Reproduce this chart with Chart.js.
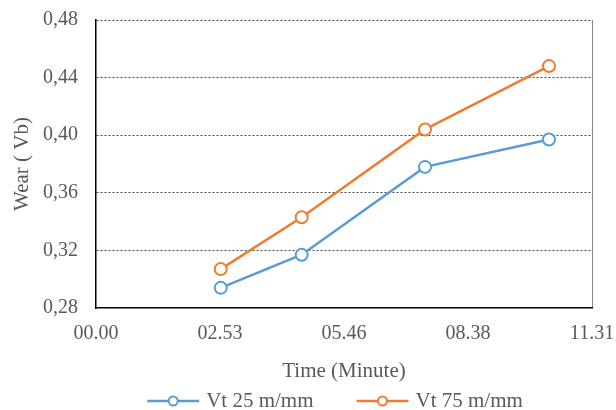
<!DOCTYPE html>
<html>
<head>
    <meta charset="utf-8">
    <title>Wear vs Time</title>
    <script src="https://cdn.jsdelivr.net/npm/chart.js@4.4.1/dist/chart.umd.min.js"></script>
    <style>
        html, body { margin: 0; padding: 0; background: #fff; }
        #wrap { width: 616px; height: 410px; }
    </style>
</head>
<body>
    <div id="wrap"><canvas id="wearChart" width="616" height="410"></canvas></div>
    <script>
        // time in seconds (axis shows mm.ss style labels every 173 s)
        const timeSec = [174, 287, 459, 632]
        const vt25 = [0.294, 0.317, 0.378, 0.397]
        const vt75 = [0.307, 0.343, 0.404, 0.448]
        const seriesNames = ['Vt 25 m/mm', 'Vt 75 m/mm']
        const seriesColors = ['#5B9BD5', '#ED7D31']
        const xTickLabels = ['00.00', '02.53', '05.46', '08.38', '11.31']
        const yTickLabels = ['0,28', '0,32', '0,36', '0,40', '0,44', '0,48']

        const FONT = 'Liberation Serif'
        const TEXT = '#595959'

        function pts(ys) {
            return ys.map((y, i) => ({ x: timeSec[i], y: y }))
        }

        // legend drawn by hand: line + open circle, centred under the plot
        const lineLegend = {
            id: 'lineLegend',
            afterDraw(chart) {
                const ctx = chart.ctx
                const y = 401
                const lineW = 52, gapText = 7, gapItem = 43
                ctx.save()
                ctx.font = '21px "' + FONT + '"'
                const widths = chart.data.datasets.map(d => lineW + gapText + ctx.measureText(d.label).width)
                let total = widths.reduce((a, b) => a + b, 0) + gapItem * (widths.length - 1)
                let x = 335 - total / 2
                chart.data.datasets.forEach((d, i) => {
                    ctx.strokeStyle = d.borderColor
                    ctx.lineWidth = 2.5
                    ctx.beginPath()
                    ctx.moveTo(x, y)
                    ctx.lineTo(x + lineW, y)
                    ctx.stroke()
                    ctx.beginPath()
                    ctx.arc(x + lineW / 2, y, 4.5, 0, Math.PI * 2)
                    ctx.fillStyle = '#fff'
                    ctx.fill()
                    ctx.lineWidth = 2
                    ctx.stroke()
                    ctx.fillStyle = TEXT
                    ctx.textBaseline = 'middle'
                    ctx.textAlign = 'left'
                    ctx.fillText(d.label, x + lineW + gapText, y)
                    x += widths[i] + gapItem
                })
                ctx.restore()
            }
        }

        const datasets = [vt25, vt75].map((vals, i) => ({
            label: seriesNames[i],
            data: pts(vals),
            borderColor: seriesColors[i],
            backgroundColor: seriesColors[i],
            borderWidth: 2.5,
            pointRadius: 6,
            pointBorderWidth: 2,
            pointBackgroundColor: '#fff',
            pointBorderColor: seriesColors[i],
            tension: 0
        }))

        const options = {
            type: 'line',
            data: { datasets: datasets },
            options: {
                responsive: false,
                animation: false,
                layout: { padding: { top: 20, right: 24, bottom: 26, left: 0 } },
                plugins: {
                    legend: { display: false },
                    tooltip: { enabled: false }
                },
                scales: {
                    x: {
                        type: 'linear',
                        min: 0,
                        max: 692,
                        afterFit: s => {
                            s.height = 76
                            s.paddingLeft = 0
                            s.paddingRight = 0
                        },
                        border: { color: '#000', width: 1.5 },
                        grid: {
                            drawTicks: false,
                            color: c => c.index === 4 ? '#888' : 'transparent',
                            lineWidth: 1
                        },
                        ticks: {
                            stepSize: 173,
                            padding: 14,
                            color: TEXT,
                            font: { family: FONT, size: 20 },
                            maxRotation: 0,
                            callback: (v, i) => xTickLabels[i]
                        },
                        title: {
                            display: true,
                            text: 'Time (Minute)',
                            color: TEXT,
                            font: { family: FONT, size: 21 },
                            padding: { top: 16, bottom: 0 }
                        }
                    },
                    y: {
                        min: 0.28,
                        max: 0.48,
                        afterFit: s => {
                            s.width = 96
                            s.paddingTop = 0
                            s.paddingBottom = 0
                        },
                        border: { color: '#000', width: 1.5, dash: [2, 2] },
                        grid: {
                            drawTicks: false,
                            color: c => c.index === 0 ? 'transparent' : '#444',
                            lineWidth: 1
                        },
                        ticks: {
                            stepSize: 0.04,
                            padding: 18,
                            color: TEXT,
                            font: { family: FONT, size: 20 },
                            callback: (v, i) => yTickLabels[i]
                        },
                        title: {
                            display: true,
                            text: 'Wear ( Vb)',
                            color: TEXT,
                            font: { family: FONT, size: 21 },
                            padding: { top: 10, bottom: 0 }
                        }
                    }
                }
            },
            plugins: [lineLegend]
        }

        var context = document.getElementById('wearChart').getContext('2d')
        var wearChart = new Chart(context, options)
    </script>
</body>
</html>
